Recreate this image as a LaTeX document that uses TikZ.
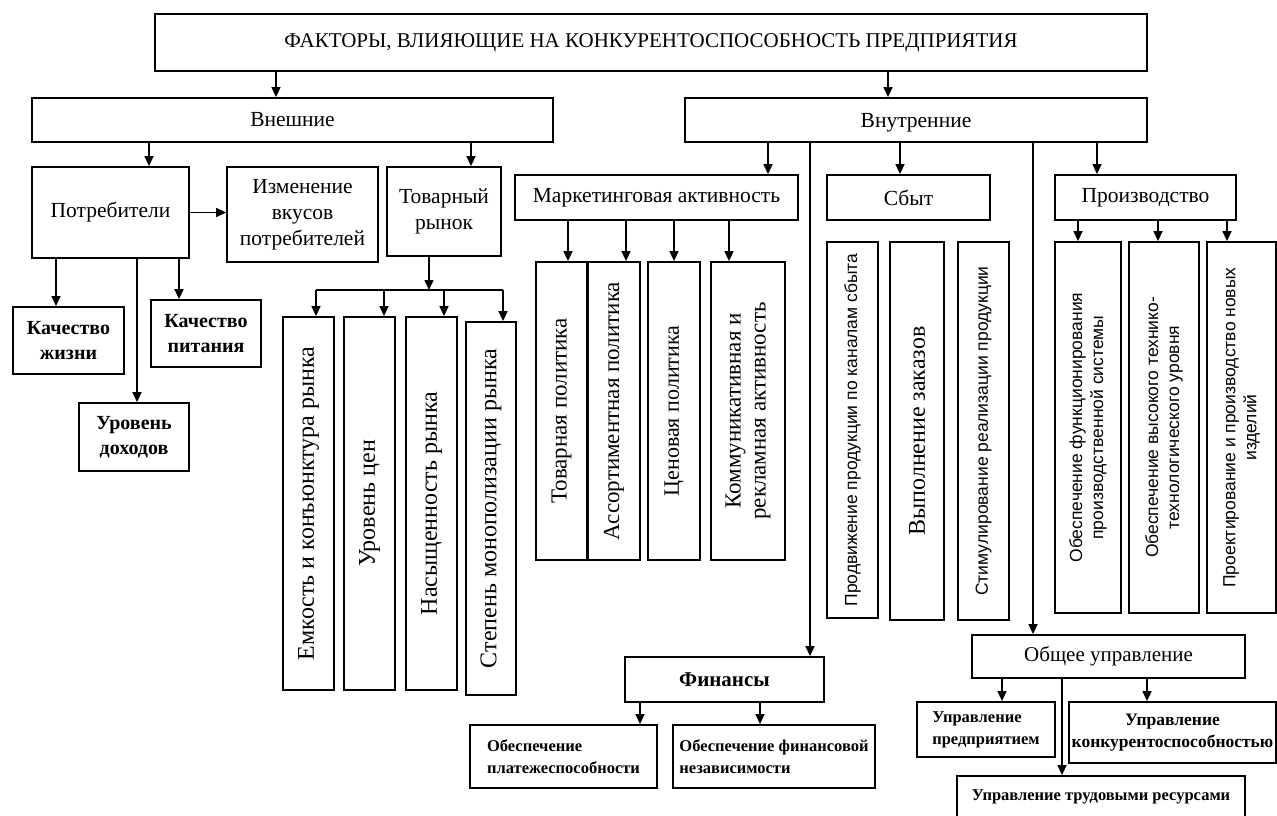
\documentclass[tikz,border=0pt]{standalone}
\usepackage{fontspec}
\setmainfont{Liberation Serif}
\newfontfamily\sansf{Liberation Sans}
\usetikzlibrary{arrows.meta}

\tikzset{
  box/.style={draw, line width=1.8pt, inner sep=2pt, align=center, font=\fontsize{21.5}{26}\selectfont},
  vbox/.style={box, rotate=90, font=\fontsize{24}{28}\selectfont},
  small/.style={font=\sansf\fontsize{17.5}{21}\selectfont},
  heavy/.style={font=\bfseries\fontsize{20}{25}\selectfont},
  note/.style={font=\bfseries\fontsize{16.5}{22}\selectfont, align=left},
}

\begin{document}
\begin{tikzpicture}[x=1pt, y=-1pt, >={Triangle[width=9pt,length=10pt]}, line width=1.4pt]
\path[use as bounding box, fill=white] (0,0) rectangle (1277,816);
% top level
\draw (651,42.5)node[box, minimum width=992pt, minimum height=57pt, font=\fontsize{21}{24}\selectfont](top){ФАКТОРЫ, ВЛИЯЮЩИЕ НА КОНКУРЕНТОСПОСОБНОСТЬ ПРЕДПРИЯТИЯ};
\draw (292.5,120)node[box, minimum width=521pt, minimum height=44pt](ext){Внешние};
\draw (916,120)node[box, minimum width=462pt, minimum height=44pt, text depth=0pt](int){Внутренние};
% external factors
\draw (110.5,212.5)node[box, minimum width=157pt, minimum height=91pt](cons){Потребители};
\draw (302.5,214.5)node[box, minimum width=151pt, minimum height=95pt](taste){Изменение\\вкусов\\потребителей};
\draw (444,211.5)node[box, minimum width=114pt, minimum height=89pt](tmark){Товарный\\рынок};
\draw (68.5,340.5)node[box, heavy, minimum width=111pt, minimum height=67pt](life){Качество\\жизни};
\draw (206,333.5)node[box, heavy, minimum width=110pt, minimum height=67pt](food){Качество\\питания};
\draw (134,437)node[box, heavy, minimum width=110pt, minimum height=68pt](income){Уровень\\доходов};
\draw (308.5,503.5)node[vbox, minimum width=373pt, minimum height=51pt](v1){Емкость и конъюнктура рынка};
\draw (369.5,503.5)node[vbox, minimum width=373pt, minimum height=51pt](v2){Уровень цен};
\draw (431.5,503.5)node[vbox, minimum width=373pt, minimum height=51pt](v3){Насыщенность рынка};
\draw (491,508.5)node[vbox, minimum width=373pt, minimum height=50pt](v4){Степень монополизации рынка};
% internal factors
\draw (656.5,197.5)node[box, minimum width=283pt, minimum height=45pt](mkt){Маркетинговая активность};
\draw (561.5,411)node[vbox, minimum width=298pt, minimum height=51pt, font=\fontsize{23}{27}\selectfont](m1){Товарная политика};
\draw (614,411)node[vbox, minimum width=298pt, minimum height=52pt, font=\fontsize{23}{27}\selectfont](m2){Ассортиментная политика};
\draw (674,411)node[vbox, minimum width=298pt, minimum height=52pt, font=\fontsize{22}{27}\selectfont](m3){Ценовая политика};
\draw (748,411)node[vbox, minimum width=298pt, minimum height=74pt, font=\fontsize{23}{25}\selectfont](m4){Коммуникативная и\\рекламная активность};
\draw (908.5,197.5)node[box, minimum width=163pt, minimum height=45pt](sales){Сбыт};
\draw (852.5,430)node[vbox, small, minimum width=376pt, minimum height=51pt](s1){Продвижение продукции по каналам сбыта};
\draw (917,431)node[vbox, minimum width=378pt, minimum height=54pt](s2){Выполнение заказов};
\draw (983.5,431)node[vbox, small, minimum width=378pt, minimum height=51pt](s3){Стимулирование реализации продукции};
\draw (1145.5,197.5)node[box, minimum width=181pt, minimum height=45pt](prod){Производство};
\draw (1088,427.5)node[vbox, small, minimum width=371pt, minimum height=66pt](p1){Обеспечение функционирования\\производственной системы};
\draw (1164,427.5)node[vbox, small, minimum width=371pt, minimum height=70pt](p2){Обеспечение высокого технико-\\технологического уровня};
\draw (1241.5,427.5)node[vbox, small, minimum width=371pt, minimum height=69pt](p3){Проектирование и производство новых\\изделий};
\draw (724.5,679.5)node[box, heavy, minimum width=199pt, minimum height=45pt, font=\bfseries\fontsize{21}{25}\selectfont](fin){Финансы};
\draw (563.5,756.5)node[box, note, minimum width=187pt, minimum height=63pt](f1){Обеспечение\\платежеспособности};
\draw (774,756.5)node[box, note, minimum width=202pt, minimum height=63pt](f2){Обеспечение финансовой\\независимости};
\draw (1108.5,656.5)node[box, minimum width=273pt, minimum height=43pt, font=\fontsize{21}{25}\selectfont](gen){Общее управление};
\draw (986,729.5)node[box, note, minimum width=138pt, minimum height=55pt](g1){Управление\\предприятием};
\draw (1172.5,732.5)node[box, note, align=center, minimum width=207pt, minimum height=61pt, font=\bfseries\fontsize{17.5}{22}\selectfont](g2){Управление\\конкурентоспособностью};
\draw (1101,797)node[box, note, minimum width=288pt, minimum height=42pt](g3){Управление трудовыми ресурсами};
% connectors, top
\path[->] (top.south -| 276,0) edge (ext.north -| 276,0);
\path[->] (top.south -| 888,0) edge (int.north -| 888,0);
\path[->] (ext.south -| 149,0) edge (cons.north -| 149,0);
\path[->] (ext.south -| 471,0) edge (tmark.north -| 471,0);
\path[->] (cons.east) edge (cons.east -| taste.west);
\path[->] (cons.south -| 56,0) edge (life.north -| 56,0);
\path[->] (cons.south -| 137,0) edge (income.north -| 137,0);
\path[->] (cons.south -| 179,0) edge (food.north -| 179,0);
% market fan-out
\coordinate (tbar) at (429,290);
\path[->] (tmark.south -| tbar) edge (tbar);
\draw (tbar -| 316,0) -- (tbar -| 503,0);
\path[->] (tbar -| 316,0) edge (v1.east -| 316,0);
\path[->] (tbar -| 384,0) edge (v2.east -| 384,0);
\path[->] (tbar -| 444,0) edge (v3.east -| 444,0);
\path[->] (tbar -| 503,0) edge (v4.east -| 503,0);
% internal
\path[->] (int.south -| 768,0) edge (mkt.north -| 768,0);
\path[->] (int.south -| 810,0) edge (fin.north -| 810,0);
\path[->] (int.south -| 900,0) edge (sales.north -| 900,0);
\path[->] (int.south -| 1033,0) edge (gen.north -| 1033,0);
\path[->] (int.south -| 1097,0) edge (prod.north -| 1097,0);
\path[->] (mkt.south -| 568,0) edge (m1.east -| 568,0);
\path[->] (mkt.south -| 626,0) edge (m2.east -| 626,0);
\path[->] (mkt.south -| 674,0) edge (m3.east -| 674,0);
\path[->] (mkt.south -| 729,0) edge (m4.east -| 729,0);
\path[->] (prod.south -| 1078,0) edge (p1.east -| 1078,0);
\path[->] (prod.south -| 1158,0) edge (p2.east -| 1158,0);
\path[->] (prod.south -| 1227,0) edge (p3.east -| 1227,0);
\path[->] (fin.south -| 640,0) edge (f1.north -| 640,0);
\path[->] (fin.south -| 760,0) edge (f2.north -| 760,0);
\path[->] (gen.south -| 1002,0) edge (g1.north -| 1002,0);
\path[->] (gen.south -| 1147,0) edge (g2.north -| 1147,0);
\path[->] (gen.south -| 1062,0) edge (g3.north -| 1062,0);
\end{tikzpicture}
\end{document}
